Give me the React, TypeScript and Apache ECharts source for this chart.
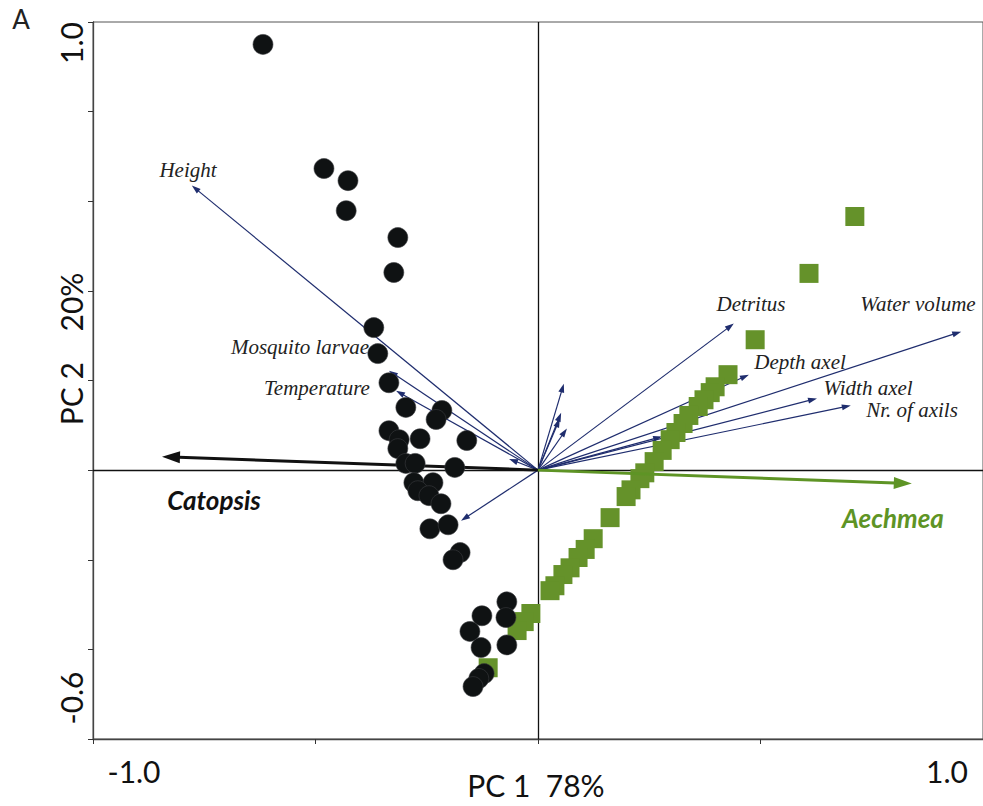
import React, { useEffect, useRef } from "react";
import * as echarts from "echarts";

// Site scores: Catopsis (black circles)
const catopsisX = [-0.618, -0.481, -0.427, -0.431, -0.315, -0.324, -0.369, -0.360, -0.335, -0.297, -0.216, -0.229, -0.335, -0.312, -0.315, -0.265, -0.160, -0.297, -0.276, -0.187, -0.279, -0.236, -0.270, -0.245, -0.218, -0.243, -0.202, -0.175, -0.191, -0.070, -0.126, -0.072, -0.153, -0.128, -0.070, -0.121, -0.133, -0.146];
const catopsisY = [0.950, 0.673, 0.646, 0.579, 0.519, 0.441, 0.318, 0.260, 0.195, 0.140, 0.133, 0.113, 0.088, 0.068, 0.048, 0.070, 0.066, 0.015, 0.015, 0.006, -0.028, -0.028, -0.046, -0.057, -0.075, -0.131, -0.122, -0.184, -0.200, -0.294, -0.325, -0.329, -0.360, -0.396, -0.390, -0.454, -0.465, -0.483];

// Site scores: Aechmea (green squares)
const aechmeaX = [0.712, 0.609, 0.488, 0.427, 0.398, 0.387, 0.373, 0.360, 0.339, 0.326, 0.310, 0.297, 0.279, 0.261, 0.240, 0.229, 0.209, 0.198, 0.162, 0.124, 0.106, 0.090, 0.072, 0.056, 0.038, 0.027, -0.016, -0.031, -0.047, -0.112];
const aechmeaY = [0.566, 0.439, 0.291, 0.213, 0.186, 0.173, 0.157, 0.142, 0.122, 0.104, 0.084, 0.068, 0.044, 0.019, -0.006, -0.019, -0.044, -0.059, -0.106, -0.153, -0.177, -0.195, -0.218, -0.233, -0.258, -0.269, -0.320, -0.338, -0.358, -0.441];

// Variable loadings (arrows)
const varX = [-0.778, -0.335, -0.319, -0.065, -0.173, 0.058, 0.052, 0.049, 0.065, 0.279, 0.440, 0.951, 0.474, 0.627, 0.703];
const varY = [0.635, 0.222, 0.177, 0.025, -0.113, 0.193, 0.128, 0.115, 0.093, 0.075, 0.327, 0.309, 0.213, 0.160, 0.144];

// Species (supplementary) arrows
const speciesNames = ["Catopsis", "Aechmea"];
const speciesX = [-0.845, 0.84];
const speciesY = [0.03, -0.03];

// Axis tick labels
const xTickLabels = ["-1.0", "1.0"];
const yTickLabels = ["1.0", "-0.6"];
const xAxisTitle = "PC 1  78%";
const yAxisTitle = "PC 2    20%";

const NAVY = "#1f2d6e";
const GREEN = "#65922a";
const BLACK = "#0f1213";

function makeArrowRenderer(color: string, lineWidth: number, headLen: number, headW: number) {
  return (params: any, api: any) => {
    const p0 = api.coord([0, 0]);
    const p1 = api.coord([api.value(0), api.value(1)]);
    const dx = p1[0] - p0[0];
    const dy = p1[1] - p0[1];
    const len = Math.sqrt(dx * dx + dy * dy) || 1;
    const ux = dx / len;
    const uy = dy / len;
    const nx = -uy;
    const ny = ux;
    const bx = p1[0] - ux * headLen;
    const by = p1[1] - uy * headLen;
    return {
      type: "group",
      children: [
        {
          type: "line",
          shape: { x1: p0[0], y1: p0[1], x2: bx + ux * 1, y2: by + uy * 1 },
          style: { stroke: color, lineWidth },
        },
        {
          type: "polygon",
          shape: {
            points: [
              [p1[0], p1[1]],
              [bx + nx * headW / 2, by + ny * headW / 2],
              [bx - nx * headW / 2, by - ny * headW / 2],
            ],
          },
          style: { fill: color },
        },
      ],
    };
  };
}

export default function App() {
  const ref = useRef<HTMLDivElement>(null);

  useEffect(() => {
    document.body.style.margin = "0";
    const chart = echarts.init(ref.current!, undefined, { renderer: "svg" });

    const sans = '"Lato", "Open Sans", sans-serif';
    const serif = '"Liberation Serif", "DejaVu Serif", serif';

    const varLabelItems = [
      { text: "Height", x: 188, y: 170 },
      { text: "Mosquito larvae", x: 300, y: 347 },
      { text: "Temperature", x: 317, y: 388 },
      { text: "Detritus", x: 751, y: 304 },
      { text: "Water volume", x: 918, y: 304 },
      { text: "Depth axel", x: 800, y: 362 },
      { text: "Width axel", x: 868, y: 388 },
      { text: "Nr. of axils", x: 912, y: 410 },
    ];

    const graphics: any[] = [
      { type: "text", x: 21, y: 19, style: { text: "A", font: `26px ${sans}`, fill: "#222", align: "center", verticalAlign: "middle" } },
      { type: "text", x: 134, y: 771, style: { text: xTickLabels[0], font: `30px ${sans}`, fill: "#111", align: "center", verticalAlign: "middle" } },
      { type: "text", x: 947, y: 771, style: { text: xTickLabels[1], font: `30px ${sans}`, fill: "#111", align: "center", verticalAlign: "middle" } },
      { type: "text", x: 536, y: 785, style: { text: xAxisTitle, font: `30px ${sans}`, fill: "#111", align: "center", verticalAlign: "middle" } },
      { type: "text", x: 71, y: 43, rotation: Math.PI / 2, style: { text: yTickLabels[0], font: `30px ${sans}`, fill: "#111", align: "center", verticalAlign: "middle" } },
      { type: "text", x: 71, y: 698, rotation: Math.PI / 2, style: { text: yTickLabels[1], font: `30px ${sans}`, fill: "#111", align: "center", verticalAlign: "middle" } },
      { type: "text", x: 71, y: 349, rotation: Math.PI / 2, style: { text: yAxisTitle, font: `30px ${sans}`, fill: "#111", align: "center", verticalAlign: "middle" } },
      { type: "text", x: 214, y: 500, style: { text: speciesNames[0], font: `italic bold 26px ${sans}`, fill: "#111", align: "center", verticalAlign: "middle" } },
      { type: "text", x: 893, y: 518, style: { text: speciesNames[1], font: `italic bold 26px ${sans}`, fill: "#5e9425", align: "center", verticalAlign: "middle" } },
      ...varLabelItems.map((l) => ({
        type: "text",
        x: l.x,
        y: l.y,
        style: { text: l.text, font: `italic 21px ${serif}`, fill: "#222", align: "center", verticalAlign: "middle" },
      })),
    ];

    chart.setOption({
      animation: false,
      backgroundColor: "#fff",
      grid: { left: 93, top: 22, width: 890, height: 717, show: true, borderColor: "#555", borderWidth: 1 },
      xAxis: {
        type: "value",
        min: -1,
        max: 1,
        interval: 0.5,
        axisLine: { onZero: false, lineStyle: { color: "#444", width: 1.3 } },
        axisTick: { show: true, length: 5, lineStyle: { color: "#333" } },
        axisLabel: { show: false },
        splitLine: { show: false },
      },
      yAxis: {
        type: "value",
        min: -0.6,
        max: 1.0,
        interval: 0.2,
        axisLine: { onZero: false, lineStyle: { color: "#444", width: 1.3 } },
        axisTick: { show: true, length: 5, lineStyle: { color: "#333" } },
        axisLabel: { show: false },
        splitLine: { show: false },
      },
      graphic: graphics,
      series: [
        {
          type: "lines",
          coordinateSystem: "cartesian2d",
          z: 1,
          silent: true,
          lineStyle: { color: "#111", width: 1.3, opacity: 1 },
          data: [
            { coords: [[-1, 0], [1, 0]] },
            { coords: [[0, -0.6], [0, 1]] },
          ],
        },
        {
          type: "custom",
          coordinateSystem: "cartesian2d",
          z: 2,
          clip: false,
          renderItem: makeArrowRenderer(NAVY, 1.2, 9, 6),
          data: varX.map((x, i) => [x, varY[i]]),
        },
        {
          type: "scatter",
          z: 3,
          symbol: "rect",
          symbolSize: 19,
          itemStyle: { color: GREEN, opacity: 1 },
          data: aechmeaX.map((x, i) => [x, aechmeaY[i]]),
        },
        {
          type: "custom",
          coordinateSystem: "cartesian2d",
          z: 4,
          clip: false,
          renderItem: (params: any, api: any) => {
            const color = params.dataIndex === 0 ? "#111" : "#5e9425";
            return makeArrowRenderer(color, 3, 18, 12)(params, api);
          },
          data: speciesX.map((x, i) => [x, speciesY[i]]),
        },
        {
          type: "scatter",
          z: 5,
          symbol: "circle",
          symbolSize: 20,
          itemStyle: { color: BLACK, opacity: 1, borderColor: "#3a3d3f", borderWidth: 0.6 },
          data: catopsisX.map((x, i) => [x, catopsisY[i]]),
        },
      ],
    });

    return () => chart.dispose();
  }, []);

  return (
    <div
      ref={ref}
      style={{ position: "absolute", left: 0, top: 0, width: 983, height: 806 }}
    />
  );
}
